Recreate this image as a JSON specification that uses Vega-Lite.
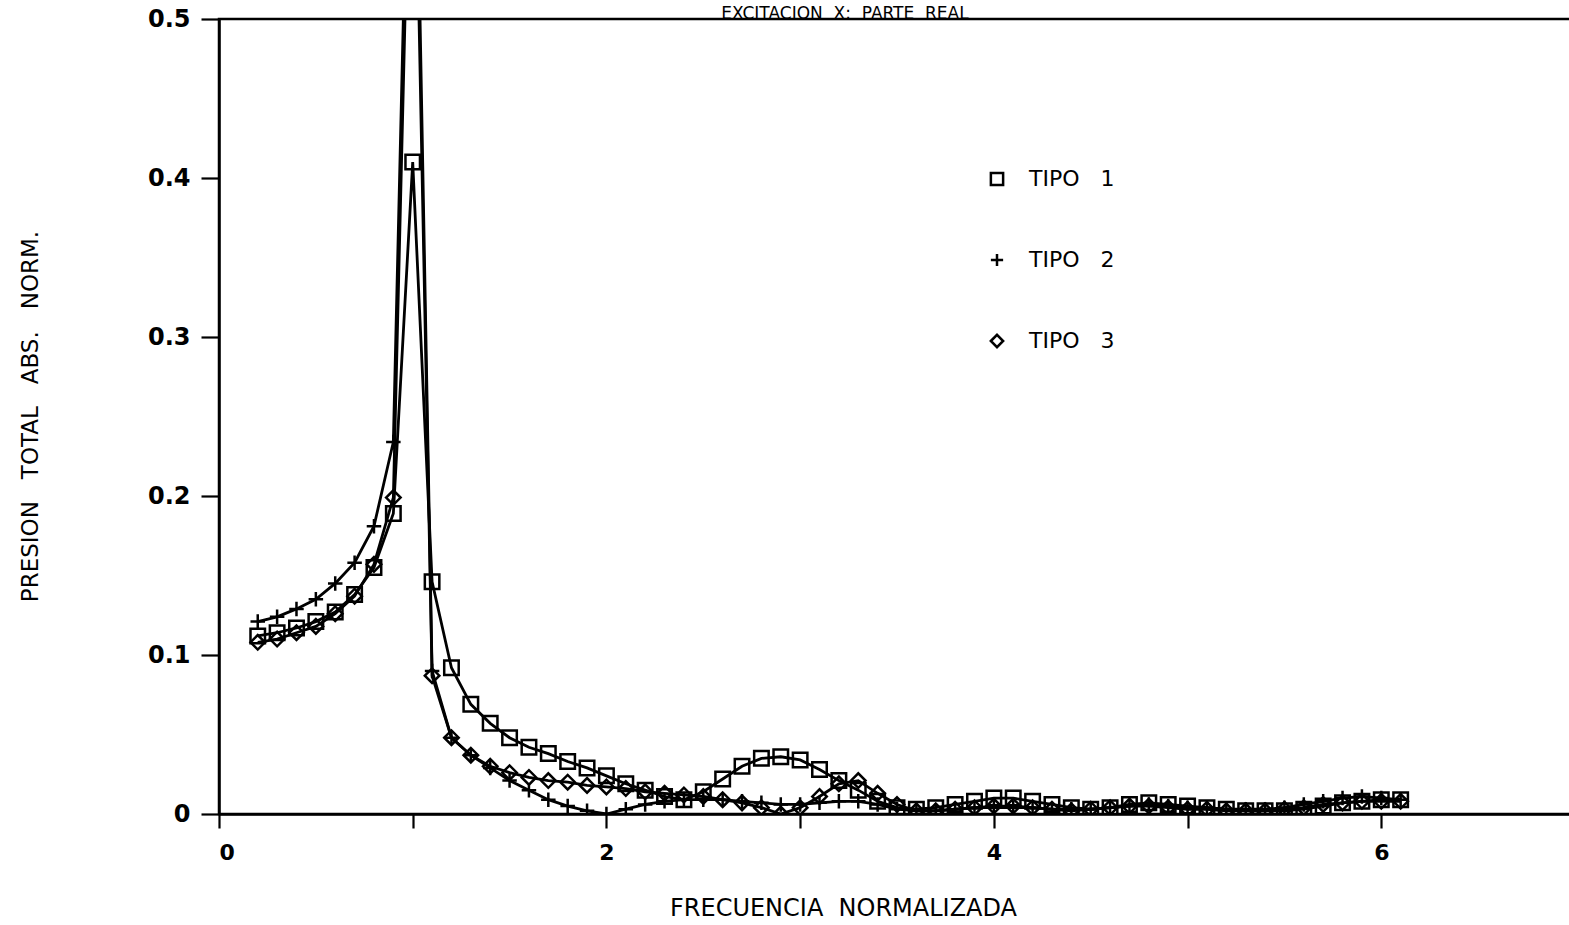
{
  "$schema": "https://vega.github.io/schema/vega-lite/v6.json",
  "autosize": {"type": "none"},
  "padding": {"left": 219, "top": 19, "right": 0, "bottom": 111},
  "width": 1356,
  "height": 795,
  "background": "white",
  "title": {
    "text": "EXCITACION \u00a0X: \u00a0PARTE \u00a0REAL",
    "fontSize": 17,
    "fontWeight": "normal",
    "font": "DejaVu Sans",
    "color": "black",
    "anchor": "middle",
    "dx": -52,
    "baseline": "alphabetic",
    "offset": -29
  },
  "config": {
    "view": {"stroke": "black", "strokeWidth": 2.5},
    "axis": {
      "domainColor": "black", "domainWidth": 2.5,
      "tickColor": "black", "tickWidth": 2.2,
      "labelColor": "black", "titleColor": "black",
      "labelFont": "DejaVu Sans", "titleFont": "DejaVu Sans",
      "labelFontWeight": "bold", "titleFontWeight": "normal",
      "grid": false
    }
  },
  "data": {
    "values": [
      {"f":0.2,"p":0.112,"tipo":"TIPO 1"},{"f":0.3,"p":0.114,"tipo":"TIPO 1"},{"f":0.4,"p":0.117,"tipo":"TIPO 1"},{"f":0.5,"p":0.121,"tipo":"TIPO 1"},{"f":0.6,"p":0.127,"tipo":"TIPO 1"},{"f":0.7,"p":0.138,"tipo":"TIPO 1"},{"f":0.8,"p":0.155,"tipo":"TIPO 1"},{"f":0.9,"p":0.189,"tipo":"TIPO 1"},{"f":1.0,"p":0.41,"tipo":"TIPO 1"},{"f":1.1,"p":0.146,"tipo":"TIPO 1"},
      {"f":1.2,"p":0.092,"tipo":"TIPO 1"},{"f":1.3,"p":0.069,"tipo":"TIPO 1"},{"f":1.4,"p":0.057,"tipo":"TIPO 1"},{"f":1.5,"p":0.048,"tipo":"TIPO 1"},{"f":1.6,"p":0.042,"tipo":"TIPO 1"},{"f":1.7,"p":0.038,"tipo":"TIPO 1"},{"f":1.8,"p":0.033,"tipo":"TIPO 1"},{"f":1.9,"p":0.029,"tipo":"TIPO 1"},{"f":2.0,"p":0.024,"tipo":"TIPO 1"},{"f":2.1,"p":0.019,"tipo":"TIPO 1"},
      {"f":2.2,"p":0.015,"tipo":"TIPO 1"},{"f":2.3,"p":0.011,"tipo":"TIPO 1"},{"f":2.4,"p":0.009,"tipo":"TIPO 1"},{"f":2.5,"p":0.014,"tipo":"TIPO 1"},{"f":2.6,"p":0.022,"tipo":"TIPO 1"},{"f":2.7,"p":0.030,"tipo":"TIPO 1"},{"f":2.8,"p":0.035,"tipo":"TIPO 1"},{"f":2.9,"p":0.036,"tipo":"TIPO 1"},{"f":3.0,"p":0.034,"tipo":"TIPO 1"},{"f":3.1,"p":0.028,"tipo":"TIPO 1"},
      {"f":3.2,"p":0.021,"tipo":"TIPO 1"},{"f":3.3,"p":0.015,"tipo":"TIPO 1"},{"f":3.4,"p":0.008,"tipo":"TIPO 1"},{"f":3.5,"p":0.004,"tipo":"TIPO 1"},{"f":3.6,"p":0.003,"tipo":"TIPO 1"},{"f":3.7,"p":0.004,"tipo":"TIPO 1"},{"f":3.8,"p":0.006,"tipo":"TIPO 1"},{"f":3.9,"p":0.008,"tipo":"TIPO 1"},{"f":4.0,"p":0.010,"tipo":"TIPO 1"},{"f":4.1,"p":0.010,"tipo":"TIPO 1"},
      {"f":4.2,"p":0.008,"tipo":"TIPO 1"},{"f":4.3,"p":0.006,"tipo":"TIPO 1"},{"f":4.4,"p":0.004,"tipo":"TIPO 1"},{"f":4.5,"p":0.003,"tipo":"TIPO 1"},{"f":4.6,"p":0.004,"tipo":"TIPO 1"},{"f":4.7,"p":0.006,"tipo":"TIPO 1"},{"f":4.8,"p":0.007,"tipo":"TIPO 1"},{"f":4.9,"p":0.006,"tipo":"TIPO 1"},{"f":5.0,"p":0.005,"tipo":"TIPO 1"},{"f":5.1,"p":0.004,"tipo":"TIPO 1"},
      {"f":5.2,"p":0.003,"tipo":"TIPO 1"},{"f":5.3,"p":0.002,"tipo":"TIPO 1"},{"f":5.4,"p":0.002,"tipo":"TIPO 1"},{"f":5.5,"p":0.002,"tipo":"TIPO 1"},{"f":5.6,"p":0.003,"tipo":"TIPO 1"},{"f":5.7,"p":0.005,"tipo":"TIPO 1"},{"f":5.8,"p":0.007,"tipo":"TIPO 1"},{"f":5.9,"p":0.008,"tipo":"TIPO 1"},{"f":6.0,"p":0.009,"tipo":"TIPO 1"},{"f":6.1,"p":0.009,"tipo":"TIPO 1"},

      {"f":0.2,"p":0.121,"tipo":"TIPO 2"},{"f":0.3,"p":0.124,"tipo":"TIPO 2"},{"f":0.4,"p":0.129,"tipo":"TIPO 2"},{"f":0.5,"p":0.135,"tipo":"TIPO 2"},{"f":0.6,"p":0.145,"tipo":"TIPO 2"},{"f":0.7,"p":0.158,"tipo":"TIPO 2"},{"f":0.8,"p":0.181,"tipo":"TIPO 2"},{"f":0.9,"p":0.234,"tipo":"TIPO 2"},{"f":1.0,"p":0.75,"tipo":"TIPO 2"},{"f":1.1,"p":0.090,"tipo":"TIPO 2"},
      {"f":1.2,"p":0.048,"tipo":"TIPO 2"},{"f":1.3,"p":0.037,"tipo":"TIPO 2"},{"f":1.4,"p":0.029,"tipo":"TIPO 2"},{"f":1.5,"p":0.021,"tipo":"TIPO 2"},{"f":1.6,"p":0.015,"tipo":"TIPO 2"},{"f":1.7,"p":0.009,"tipo":"TIPO 2"},{"f":1.8,"p":0.005,"tipo":"TIPO 2"},{"f":1.9,"p":0.002,"tipo":"TIPO 2"},{"f":2.0,"p":0.000,"tipo":"TIPO 2"},{"f":2.1,"p":0.003,"tipo":"TIPO 2"},
      {"f":2.2,"p":0.006,"tipo":"TIPO 2"},{"f":2.3,"p":0.008,"tipo":"TIPO 2"},{"f":2.4,"p":0.009,"tipo":"TIPO 2"},{"f":2.5,"p":0.009,"tipo":"TIPO 2"},{"f":2.6,"p":0.009,"tipo":"TIPO 2"},{"f":2.7,"p":0.008,"tipo":"TIPO 2"},{"f":2.8,"p":0.007,"tipo":"TIPO 2"},{"f":2.9,"p":0.006,"tipo":"TIPO 2"},{"f":3.0,"p":0.006,"tipo":"TIPO 2"},{"f":3.1,"p":0.007,"tipo":"TIPO 2"},
      {"f":3.2,"p":0.008,"tipo":"TIPO 2"},{"f":3.3,"p":0.008,"tipo":"TIPO 2"},{"f":3.4,"p":0.006,"tipo":"TIPO 2"},{"f":3.5,"p":0.003,"tipo":"TIPO 2"},{"f":3.6,"p":0.002,"tipo":"TIPO 2"},{"f":3.7,"p":0.002,"tipo":"TIPO 2"},{"f":3.8,"p":0.003,"tipo":"TIPO 2"},{"f":3.9,"p":0.004,"tipo":"TIPO 2"},{"f":4.0,"p":0.004,"tipo":"TIPO 2"},{"f":4.1,"p":0.004,"tipo":"TIPO 2"},
      {"f":4.2,"p":0.004,"tipo":"TIPO 2"},{"f":4.3,"p":0.003,"tipo":"TIPO 2"},{"f":4.4,"p":0.003,"tipo":"TIPO 2"},{"f":4.5,"p":0.003,"tipo":"TIPO 2"},{"f":4.6,"p":0.004,"tipo":"TIPO 2"},{"f":4.7,"p":0.005,"tipo":"TIPO 2"},{"f":4.8,"p":0.006,"tipo":"TIPO 2"},{"f":4.9,"p":0.005,"tipo":"TIPO 2"},{"f":5.0,"p":0.004,"tipo":"TIPO 2"},{"f":5.1,"p":0.004,"tipo":"TIPO 2"},
      {"f":5.2,"p":0.003,"tipo":"TIPO 2"},{"f":5.3,"p":0.003,"tipo":"TIPO 2"},{"f":5.4,"p":0.003,"tipo":"TIPO 2"},{"f":5.5,"p":0.004,"tipo":"TIPO 2"},{"f":5.6,"p":0.006,"tipo":"TIPO 2"},{"f":5.7,"p":0.008,"tipo":"TIPO 2"},{"f":5.8,"p":0.010,"tipo":"TIPO 2"},{"f":5.9,"p":0.011,"tipo":"TIPO 2"},{"f":6.0,"p":0.010,"tipo":"TIPO 2"},{"f":6.1,"p":0.009,"tipo":"TIPO 2"},

      {"f":0.2,"p":0.108,"tipo":"TIPO 3"},{"f":0.3,"p":0.110,"tipo":"TIPO 3"},{"f":0.4,"p":0.114,"tipo":"TIPO 3"},{"f":0.5,"p":0.118,"tipo":"TIPO 3"},{"f":0.6,"p":0.126,"tipo":"TIPO 3"},{"f":0.7,"p":0.137,"tipo":"TIPO 3"},{"f":0.8,"p":0.157,"tipo":"TIPO 3"},{"f":0.9,"p":0.199,"tipo":"TIPO 3"},{"f":1.0,"p":0.70,"tipo":"TIPO 3"},{"f":1.1,"p":0.087,"tipo":"TIPO 3"},
      {"f":1.2,"p":0.048,"tipo":"TIPO 3"},{"f":1.3,"p":0.037,"tipo":"TIPO 3"},{"f":1.4,"p":0.030,"tipo":"TIPO 3"},{"f":1.5,"p":0.026,"tipo":"TIPO 3"},{"f":1.6,"p":0.023,"tipo":"TIPO 3"},{"f":1.7,"p":0.021,"tipo":"TIPO 3"},{"f":1.8,"p":0.020,"tipo":"TIPO 3"},{"f":1.9,"p":0.018,"tipo":"TIPO 3"},{"f":2.0,"p":0.017,"tipo":"TIPO 3"},{"f":2.1,"p":0.016,"tipo":"TIPO 3"},
      {"f":2.2,"p":0.014,"tipo":"TIPO 3"},{"f":2.3,"p":0.013,"tipo":"TIPO 3"},{"f":2.4,"p":0.012,"tipo":"TIPO 3"},{"f":2.5,"p":0.011,"tipo":"TIPO 3"},{"f":2.6,"p":0.009,"tipo":"TIPO 3"},{"f":2.7,"p":0.007,"tipo":"TIPO 3"},{"f":2.8,"p":0.004,"tipo":"TIPO 3"},{"f":2.9,"p":0.000,"tipo":"TIPO 3"},{"f":3.0,"p":0.004,"tipo":"TIPO 3"},{"f":3.1,"p":0.011,"tipo":"TIPO 3"},
      {"f":3.2,"p":0.019,"tipo":"TIPO 3"},{"f":3.3,"p":0.021,"tipo":"TIPO 3"},{"f":3.4,"p":0.013,"tipo":"TIPO 3"},{"f":3.5,"p":0.006,"tipo":"TIPO 3"},{"f":3.6,"p":0.002,"tipo":"TIPO 3"},{"f":3.7,"p":0.002,"tipo":"TIPO 3"},{"f":3.8,"p":0.003,"tipo":"TIPO 3"},{"f":3.9,"p":0.004,"tipo":"TIPO 3"},{"f":4.0,"p":0.005,"tipo":"TIPO 3"},{"f":4.1,"p":0.005,"tipo":"TIPO 3"},
      {"f":4.2,"p":0.004,"tipo":"TIPO 3"},{"f":4.3,"p":0.003,"tipo":"TIPO 3"},{"f":4.4,"p":0.002,"tipo":"TIPO 3"},{"f":4.5,"p":0.003,"tipo":"TIPO 3"},{"f":4.6,"p":0.004,"tipo":"TIPO 3"},{"f":4.7,"p":0.005,"tipo":"TIPO 3"},{"f":4.8,"p":0.005,"tipo":"TIPO 3"},{"f":4.9,"p":0.004,"tipo":"TIPO 3"},{"f":5.0,"p":0.003,"tipo":"TIPO 3"},{"f":5.1,"p":0.003,"tipo":"TIPO 3"},
      {"f":5.2,"p":0.002,"tipo":"TIPO 3"},{"f":5.3,"p":0.002,"tipo":"TIPO 3"},{"f":5.4,"p":0.002,"tipo":"TIPO 3"},{"f":5.5,"p":0.003,"tipo":"TIPO 3"},{"f":5.6,"p":0.004,"tipo":"TIPO 3"},{"f":5.7,"p":0.006,"tipo":"TIPO 3"},{"f":5.8,"p":0.007,"tipo":"TIPO 3"},{"f":5.9,"p":0.008,"tipo":"TIPO 3"},{"f":6.0,"p":0.008,"tipo":"TIPO 3"},{"f":6.1,"p":0.008,"tipo":"TIPO 3"}
    ]
  },
  "encoding": {
    "x": {
      "field": "f", "type": "quantitative",
      "scale": {"domain": [0, 7], "nice": false, "zero": false},
      "axis": {
        "values": [0, 1, 2, 3, 4, 5, 6],
        "labelExpr": "datum.value % 2 == 0 ? datum.label : ''",
        "tickSize": 14, "labelPadding": 14, "labelFontSize": 22,
        "title": "FRECUENCIA \u00a0NORMALIZADA", "titleFontSize": 24,
        "titleX": 624, "titleY": 94, "titleBaseline": "middle", "titleAlign": "center"
      }
    },
    "y": {
      "field": "p", "type": "quantitative",
      "scale": {"domain": [0, 0.5], "nice": false},
      "axis": {
        "values": [0, 0.1, 0.2, 0.3, 0.4, 0.5],
        "labelExpr": "datum.value == 0 ? '0' : format(datum.value, '.1f')",
        "tickSize": 18, "labelPadding": 11, "labelFontSize": 24,
        "title": "PRESION \u00a0\u00a0TOTAL \u00a0\u00a0ABS. \u00a0\u00a0NORM.", "titleFontSize": 23,
        "titleX": -189, "titleY": 397, "titleBaseline": "middle", "titleAlign": "center", "titleAngle": -90
      }
    }
  },
  "layer": [
    {
      "mark": {"type": "line", "color": "black", "strokeWidth": 2.8, "clip": true},
      "encoding": {"detail": {"field": "tipo"}}
    },
    {
      "mark": {"type": "point", "filled": false, "color": "black", "strokeWidth": 2.5, "size": 210, "clip": true, "opacity": 1},
      "encoding": {
        "shape": {
          "field": "tipo", "type": "nominal",
          "scale": {"domain": ["TIPO 1", "TIPO 2", "TIPO 3"], "range": ["square", "M-1,0H1M0,-1V1", "diamond"]},
          "legend": {
            "title": null, "orient": "none", "legendX": 767, "legendY": 149,
            "padding": 0, "rowPadding": 57, "labelFontSize": 22, "labelFont": "DejaVu Sans",
            "labelExpr": "replace(datum.label, ' ', ' \u00a0\u00a0')",
            "labelColor": "black", "labelOffset": 21, "symbolSize": 150,
            "symbolStrokeColor": "black", "symbolStrokeWidth": 2.5, "symbolFillColor": "transparent"
          }
        }
      }
    }
  ]
}
